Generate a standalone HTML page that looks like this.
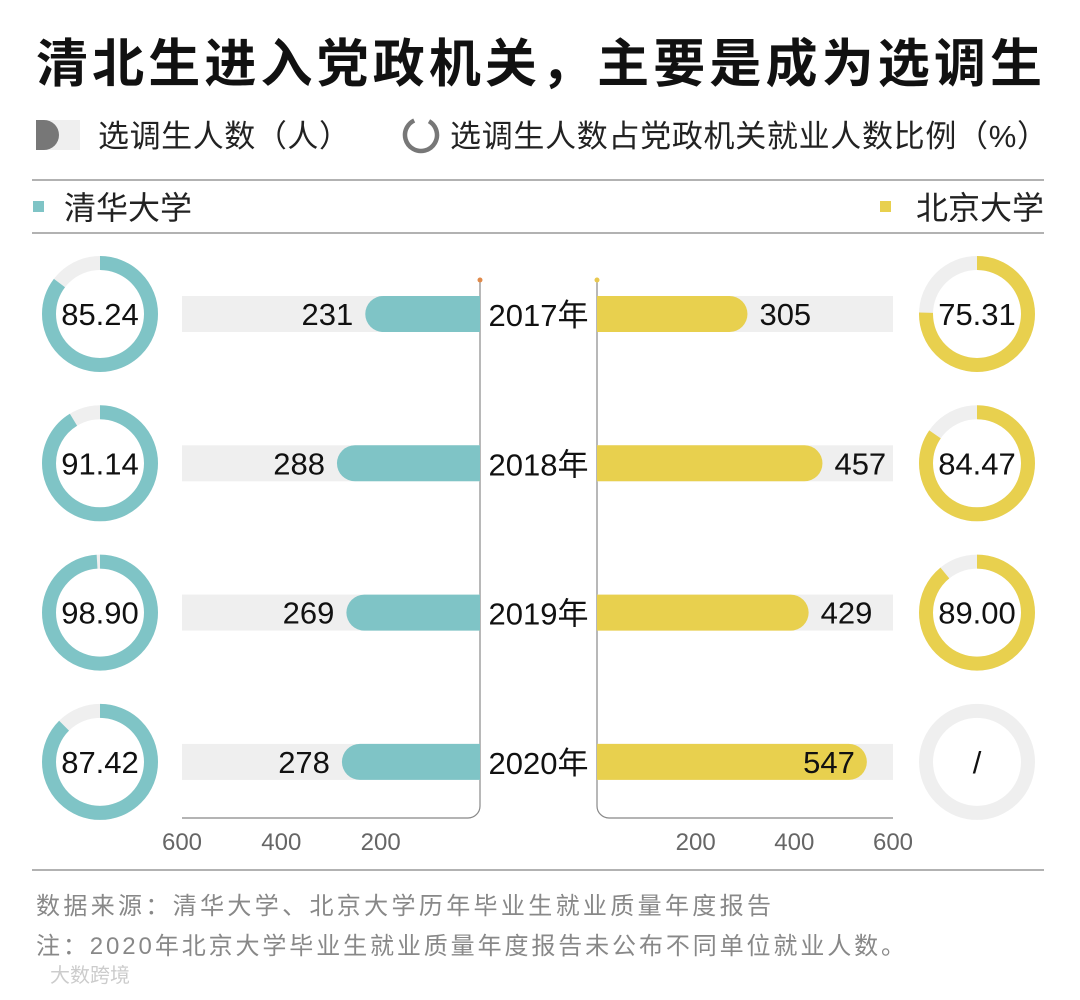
<!DOCTYPE html>
<html><head><meta charset="utf-8"><style>
body{margin:0;background:#fff;width:1080px;height:995px;overflow:hidden;font-family:"Liberation Sans","Noto Sans CJK SC",sans-serif}
</style></head><body>
<svg width="1080" height="995" xmlns="http://www.w3.org/2000/svg" font-family="Liberation Sans, Noto Sans CJK SC, sans-serif">
<text x="36" y="82" font-size="52" font-weight="bold" fill="#111" textLength="1006" lengthAdjust="spacing">清北生进入党政机关，主要是成为选调生</text>
<g>
<rect x="36" y="120" width="44" height="30" fill="#efefef"/>
<path d="M36 120 h8 a15 15 0 0 1 0 30 h-8 z" fill="#777"/>
<text x="98" y="147" font-size="31" fill="#222" textLength="252" lengthAdjust="spacing">选调生人数（人）</text>
<circle cx="421" cy="135" r="16" fill="none" stroke="#777" stroke-width="4.5" stroke-dasharray="85 16" transform="rotate(-60 421 135)"/>
<text x="450" y="147" font-size="31" fill="#222" textLength="598" lengthAdjust="spacing">选调生人数占党政机关就业人数比例（%）</text>
</g>
<line x1="32" y1="180" x2="1044" y2="180" stroke="#999" stroke-width="1.5"/>
<line x1="32" y1="233" x2="1044" y2="233" stroke="#999" stroke-width="1.5"/>
<rect x="33" y="201" width="11" height="11" fill="#7fc4c6"/>
<text x="64" y="219" font-size="32" fill="#222" textLength="128">清华大学</text>
<rect x="880" y="201" width="11" height="11" fill="#e8d04e"/>
<text x="916" y="219" font-size="32" fill="#222" textLength="128">北京大学</text>
<path d="M480 280 V806 a12 12 0 0 1 -12 12 H182" fill="none" stroke="#888" stroke-width="1.2"/>
<path d="M597 280 V806 a12 12 0 0 0 12 12 H893" fill="none" stroke="#888" stroke-width="1.2"/>
<circle cx="480" cy="280" r="2.5" fill="#e08a4a"/>
<circle cx="597" cy="280" r="2.5" fill="#e8c84e"/>
<line x1="32" y1="870" x2="1044" y2="870" stroke="#999" stroke-width="1.5"/>
<g id="plot"></g>
<text x="36" y="914" font-size="24" fill="#888" textLength="735" lengthAdjust="spacing">数据来源：清华大学、北京大学历年毕业生就业质量年度报告</text>
<text x="36" y="954" font-size="24" fill="#888" textLength="869" lengthAdjust="spacing">注：2020年北京大学毕业生就业质量年度报告未公布不同单位就业人数。</text>
<text x="50" y="982" font-size="20" fill="#ccc">大数跨境</text>
</svg>
<script>
const years=["2017年","2018年","2019年","2020年"];
const thuCount=[231,288,269,278];
const pkuCount=[305,457,429,547];
const thuPct=[85.24,91.14,98.90,87.42];
const pkuPct=[75.31,84.47,89.00,null];
const ticks=[200,400,600];
const NS="http://www.w3.org/2000/svg";
const g=document.getElementById('plot');
const rowY=i=>314+i*149.3;
const xL=v=>480-v*298/600, xR=v=>597+v*296/600;
function mk(t,a,p){const e=document.createElementNS(NS,t);for(const k in a)e.setAttribute(k,a[k]);(p||g).appendChild(e);return e;}
function donut(cx,cy,pct,col,name){
 const r=51,C=2*Math.PI*r;
 const c1=mk('circle',{cx,cy,r,fill:'none',stroke:'#efefef','stroke-width':14});
 
 
 if(pct!=null){
  const c2=mk('circle',{cx,cy,r,fill:'none',stroke:col,'stroke-width':14,'stroke-dasharray':(C*pct/100)+' '+C,transform:`rotate(-90 ${cx} ${cy})`});
  
  
 }
 const t=mk('text',{x:cx,y:cy+11,'font-size':31,'text-anchor':'middle',fill:'#111'});
 t.textContent=pct==null?'/':pct.toFixed(2);
 
 
}
years.forEach((y,i)=>{
 const cy=rowY(i),h=36;
 mk('rect',{x:182,y:cy-h/2,width:298,height:h,fill:'#efefef'});
 mk('rect',{x:597,y:cy-h/2,width:296,height:h,fill:'#efefef'});
 const x0=xL(thuCount[i]);
 const b1=mk('path',{d:`M480 ${cy-h/2} H${x0+h/2} a${h/2} ${h/2} 0 0 0 0 ${h} H480 Z`,fill:'#7fc4c6'});
 
 
 const t1=mk('text',{x:x0-12,y:cy+11,'font-size':31,'text-anchor':'end',fill:'#111'});
 t1.textContent=thuCount[i];
 const x1=xR(pkuCount[i]);
 const b2=mk('path',{d:`M597 ${cy-h/2} H${x1-h/2} a${h/2} ${h/2} 0 0 1 0 ${h} H597 Z`,fill:'#e8d04e'});
 
 
 const inside=pkuCount[i]>500;
 const t2=mk('text',{x:inside?x1-12:x1+12,y:cy+11,'font-size':31,'text-anchor':inside?'end':'start',fill:'#111'});
 t2.textContent=pkuCount[i];
 const ty=mk('text',{x:538.5,y:cy+12,'font-size':31,'text-anchor':'middle',fill:'#111'});
 ty.textContent=y;
 
 
 donut(100,cy,thuPct[i],'#7fc4c6','thu-donut-'+i);
 donut(977,cy,pkuPct[i],'#e8d04e','pku-donut-'+i);
});
ticks.forEach(v=>{
 const a=mk('text',{x:xL(v),y:850,'font-size':24,'text-anchor':'middle',fill:'#666'});a.textContent=v;
 
 
 const b=mk('text',{x:xR(v),y:850,'font-size':24,'text-anchor':'middle',fill:'#666'});b.textContent=v;
 
 
});
</script>
</body></html>
